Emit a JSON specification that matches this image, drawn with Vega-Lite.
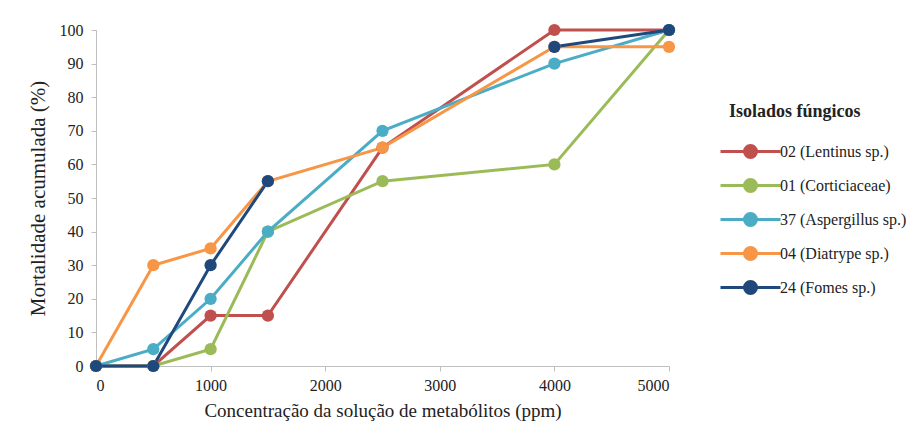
{
  "$schema": "https://vega.github.io/schema/vega-lite/v6.json",
  "width": 573,
  "height": 336,
  "padding": {"left": 27, "top": 22, "right": 5, "bottom": 5},
  "background": "white",
  "config": {
    "font": "Liberation Serif",
    "view": {"stroke": null},
    "axis": {
      "grid": false,
      "domainColor": "#BFBFBF",
      "tickColor": "#BFBFBF",
      "labelColor": "#222",
      "titleColor": "#222",
      "titleFontWeight": "normal"
    },
    "legend": {
      "labelColor": "#222",
      "titleColor": "#222"
    }
  },
  "data": {
    "values": [
      {"isolado": "02 (Lentinus sp.)", "seg": "a", "conc": 0, "mort": 0},
      {"isolado": "02 (Lentinus sp.)", "seg": "a", "conc": 500, "mort": 0},
      {"isolado": "02 (Lentinus sp.)", "seg": "a", "conc": 1000, "mort": 15},
      {"isolado": "02 (Lentinus sp.)", "seg": "a", "conc": 1500, "mort": 15},
      {"isolado": "02 (Lentinus sp.)", "seg": "a", "conc": 2500, "mort": 65},
      {"isolado": "02 (Lentinus sp.)", "seg": "a", "conc": 4000, "mort": 100},
      {"isolado": "02 (Lentinus sp.)", "seg": "a", "conc": 5000, "mort": 100},
      {"isolado": "01 (Corticiaceae)", "seg": "a", "conc": 0, "mort": 0},
      {"isolado": "01 (Corticiaceae)", "seg": "a", "conc": 500, "mort": 0},
      {"isolado": "01 (Corticiaceae)", "seg": "a", "conc": 1000, "mort": 5},
      {"isolado": "01 (Corticiaceae)", "seg": "a", "conc": 1500, "mort": 40},
      {"isolado": "01 (Corticiaceae)", "seg": "a", "conc": 2500, "mort": 55},
      {"isolado": "01 (Corticiaceae)", "seg": "a", "conc": 4000, "mort": 60},
      {"isolado": "01 (Corticiaceae)", "seg": "a", "conc": 5000, "mort": 100},
      {"isolado": "37 (Aspergillus sp.)", "seg": "a", "conc": 0, "mort": 0},
      {"isolado": "37 (Aspergillus sp.)", "seg": "a", "conc": 500, "mort": 5},
      {"isolado": "37 (Aspergillus sp.)", "seg": "a", "conc": 1000, "mort": 20},
      {"isolado": "37 (Aspergillus sp.)", "seg": "a", "conc": 1500, "mort": 40},
      {"isolado": "37 (Aspergillus sp.)", "seg": "a", "conc": 2500, "mort": 70},
      {"isolado": "37 (Aspergillus sp.)", "seg": "a", "conc": 4000, "mort": 90},
      {"isolado": "37 (Aspergillus sp.)", "seg": "a", "conc": 5000, "mort": 100},
      {"isolado": "04 (Diatrype sp.)", "seg": "a", "conc": 0, "mort": 0},
      {"isolado": "04 (Diatrype sp.)", "seg": "a", "conc": 500, "mort": 30},
      {"isolado": "04 (Diatrype sp.)", "seg": "a", "conc": 1000, "mort": 35},
      {"isolado": "04 (Diatrype sp.)", "seg": "a", "conc": 1500, "mort": 55},
      {"isolado": "04 (Diatrype sp.)", "seg": "a", "conc": 2500, "mort": 65},
      {"isolado": "04 (Diatrype sp.)", "seg": "a", "conc": 4000, "mort": 95},
      {"isolado": "04 (Diatrype sp.)", "seg": "a", "conc": 5000, "mort": 95},
      {"isolado": "24 (Fomes sp.)", "seg": "a", "conc": 0, "mort": 0},
      {"isolado": "24 (Fomes sp.)", "seg": "a", "conc": 500, "mort": 0},
      {"isolado": "24 (Fomes sp.)", "seg": "a", "conc": 1000, "mort": 30},
      {"isolado": "24 (Fomes sp.)", "seg": "a", "conc": 1500, "mort": 55},
      {"isolado": "24 (Fomes sp.)", "seg": "b", "conc": 4000, "mort": 95},
      {"isolado": "24 (Fomes sp.)", "seg": "b", "conc": 5000, "mort": 100}
    ]
  },
  "encoding": {
    "x": {
      "field": "conc",
      "type": "quantitative",
      "title": "Concentração da solução de metabólitos (ppm)",
      "scale": {"domain": [0, 5000], "nice": false, "zero": true},
      "axis": {"values": [0, 1000, 2000, 3000, 4000, 5000], "format": "d", "labelPadding": 6, "titlePadding": 8, "tickSize": 5,
        "labelFont": "Liberation Serif", "titleFont": "Liberation Serif", "labelFontSize": 16, "titleFontSize": 19}
    },
    "y": {
      "field": "mort",
      "type": "quantitative",
      "title": "Mortalidade acumulada (%)",
      "scale": {"domain": [0, 100], "nice": false},
      "axis": {"values": [0, 10, 20, 30, 40, 50, 60, 70, 80, 90, 100], "format": "d", "labelPadding": 8, "titlePadding": 11, "tickSize": 5,
        "labelFont": "Liberation Serif", "titleFont": "Liberation Serif", "labelFontSize": 16, "titleFontSize": 21}
    },
    "color": {
      "field": "isolado",
      "type": "nominal",
      "title": "Isolados fúngicos",
      "scale": {
        "domain": ["02 (Lentinus sp.)", "01 (Corticiaceae)", "37 (Aspergillus sp.)", "04 (Diatrype sp.)", "24 (Fomes sp.)"],
        "range": ["#C0504D", "#9BBB59", "#4BACC6", "#F79646", "#1F497D"]
      },
      "legend": {
        "orient": "none",
        "legendX": 633,
        "legendY": 73,
        "labelFont": "Liberation Serif",
        "titleFont": "Liberation Serif",
        "labelFontSize": 16,
        "titleFontSize": 18,
        "symbolType": "M -1.5 0 L 1.5 0 M 0.3 0 A 0.3 0.3 0 1 1 -0.3 0 A 0.3 0.3 0 1 1 0.3 0",
        "symbolSize": 1600,
        "symbolStrokeWidth": 3,
        "rowPadding": -1,
        "labelOffset": 8,
        "titlePadding": 9,
        "padding": 0
      }
    }
  },
  "layer": [
    {
      "mark": {"type": "line", "strokeWidth": 3},
      "encoding": {"detail": {"field": "seg", "type": "nominal"}}
    },
    {
      "mark": {"type": "point", "filled": true, "size": 150, "opacity": 1}
    }
  ]
}
